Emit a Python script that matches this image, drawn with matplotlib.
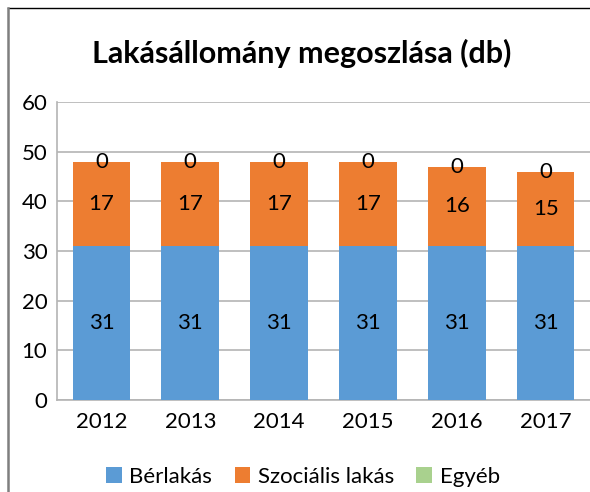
import matplotlib
matplotlib.use("Agg")
import matplotlib.pyplot as plt
from matplotlib.lines import Line2D
import numpy as np

years = ["2012", "2013", "2014", "2015", "2016", "2017"]
berlakas = [31, 31, 31, 31, 31, 31]
szocialis = [17, 17, 17, 17, 16, 15]
egyeb = [0, 0, 0, 0, 0, 0]
series_names = ["Bérlakás", "Szociális lakás", "Egyéb"]
colors = ["#5B9BD5", "#ED7D31", "#A9D18E"]

plt.rcParams['font.family'] = ['Lato', 'DejaVu Sans']

W, H = 590, 492
fig = plt.figure(figsize=(W / 100, H / 100), dpi=100)
# outer chart border (only top and left visible, rest is cropped)
fig.add_artist(Line2D([8 / W, 1.0], [1 - 8 / H, 1 - 8 / H], transform=fig.transFigure,
                      color="black", linewidth=1.0))
fig.add_artist(Line2D([8 / W, 8 / W], [0.0, 1 - 8 / H], transform=fig.transFigure,
                      color="#7F7F7F", linewidth=1.8))

ax = fig.add_axes([57 / W, 1 - 400 / H, 1 - 57 / W, (400 - 102) / H])

x = np.arange(len(years))
w = 0.65
bottom = np.zeros(len(years))
for vals, name, c in zip([berlakas, szocialis, egyeb], series_names, colors):
    vals = np.array(vals, dtype=float)
    ax.bar(x, vals, w, bottom=bottom, color=c, label=name, zorder=3)
    for xi, b, v in zip(x, bottom, vals):
        ax.text(xi, b + v / 2, f"{int(v)}", ha="center", va="center",
                fontsize=16, color="black", zorder=4)
    bottom = bottom + vals

ax.set_xlim(-0.5, len(years) - 0.5)
ax.set_ylim(0, 60)
ax.set_yticks(range(0, 61, 10))
ax.set_xticks(x)
ax.set_xticklabels(years)
ax.tick_params(axis="both", length=0, labelsize=16, colors="black")
ax.tick_params(axis="y", pad=7)
ax.tick_params(axis="x", pad=9)
ax.grid(axis="y", color="#B4B4B4", linewidth=1.2, zorder=0)
for s in ["top", "right"]:
    ax.spines[s].set_visible(False)
ax.spines["left"].set_color("#B4B4B4")
ax.spines["bottom"].set_color("#B4B4B4")
ax.spines["left"].set_linewidth(1.2)
ax.spines["bottom"].set_linewidth(1.2)

fig.text(302 / W, 1 - 53 / H, "Lakásállomány megoszlása (db)", ha="center", va="center",
         fontsize=22, fontweight="bold")

fig.legend(loc="center", bbox_to_anchor=(303 / W, 1 - 477 / H), ncol=3, frameon=False,
           fontsize=16, handlelength=0.7, handleheight=0.7, handletextpad=0.35,
           columnspacing=1.0)

fig.savefig("out.png", dpi=100)
